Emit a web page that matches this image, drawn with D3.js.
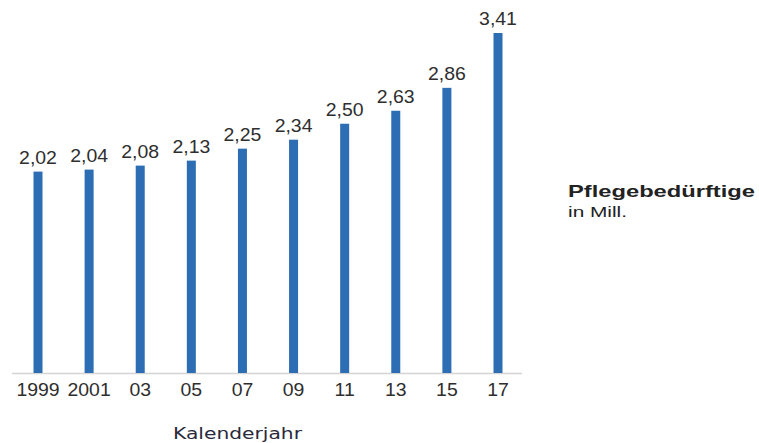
<!DOCTYPE html>
<html>
<head>
<meta charset="utf-8">
<script src="https://cdn.jsdelivr.net/npm/d3@7"></script>
<style>
  html, body { margin: 0; padding: 0; background: #fff; }
  svg { display: block; font-family: "Liberation Sans", Arial, sans-serif; }
</style>
</head>
<body>
<svg id="chart" width="759" height="443"></svg>
<script>
// Pflegebedürftige in Deutschland, in Millionen
const years = ["1999", "2001", "03", "05", "07", "09", "11", "13", "15", "17"];
const values = [2.02, 2.04, 2.08, 2.13, 2.25, 2.34, 2.50, 2.63, 2.86, 3.41];

const svg = d3.select("#chart");
const baseY = 373;
const topY = 33;
const barW = 9;
const stretch = 1.08;

// bar centres
const x = d3.scalePoint()
  .domain(years)
  .range([38, 498]);

const y = d3.scaleLinear()
  .domain([0, 3.41])
  .range([baseY, topY]);

const fmt = v => d3.format(".2f")(v).replace(".", ",");

// axis line
svg.append("line")
  .attr("x1", 12).attr("x2", 522)
  .attr("y1", baseY + 0.5).attr("y2", baseY + 0.5)
  .attr("stroke", "#d4d4d4")
  .attr("stroke-width", 1.5);

// bars
svg.append("g")
  .selectAll("rect")
  .data(values)
  .join("rect")
  .attr("x", (d, i) => x(years[i]) - barW / 2)
  .attr("y", d => y(d))
  .attr("width", barW)
  .attr("height", d => baseY - y(d))
  .attr("fill", "#2c6db3");

// value labels
svg.append("g")
  .selectAll("text")
  .data(values)
  .join("text")
  .attr("transform", (d, i) => `translate(${x(years[i])},${y(d) - 8}) scale(${stretch},1)`)
  .attr("text-anchor", "middle")
  .attr("font-size", 18)
  .attr("fill", "#2e2e2e")
  .text(d => fmt(d));

// tick labels
svg.append("g")
  .selectAll("text")
  .data(years)
  .join("text")
  .attr("transform", d => `translate(${x(d)},396) scale(${stretch},1)`)
  .attr("text-anchor", "middle")
  .attr("font-size", 18)
  .attr("fill", "#2e2e2e")
  .text(d => d);

// axis title
svg.append("text")
  .attr("x", 173)
  .attr("y", 439)
  .attr("font-family", "DejaVu Sans, Verdana, sans-serif")
  .attr("font-size", 15)
  .attr("textLength", 129)
  .attr("lengthAdjust", "spacingAndGlyphs")
  .attr("fill", "#2a2a3a")
  .text("Kalenderjahr");

// legend text
svg.append("text")
  .attr("x", 568)
  .attr("y", 197)
  .attr("font-size", 17)
  .attr("font-weight", "bold")
  .attr("textLength", 187)
  .attr("lengthAdjust", "spacingAndGlyphs")
  .attr("fill", "#222")
  .text("Pflegebedürftige");
svg.append("text")
  .attr("x", 568)
  .attr("y", 217)
  .attr("font-size", 14)
  .attr("textLength", 59)
  .attr("lengthAdjust", "spacingAndGlyphs")
  .attr("fill", "#222")
  .text("in Mill.");
</script>
</body>
</html>
